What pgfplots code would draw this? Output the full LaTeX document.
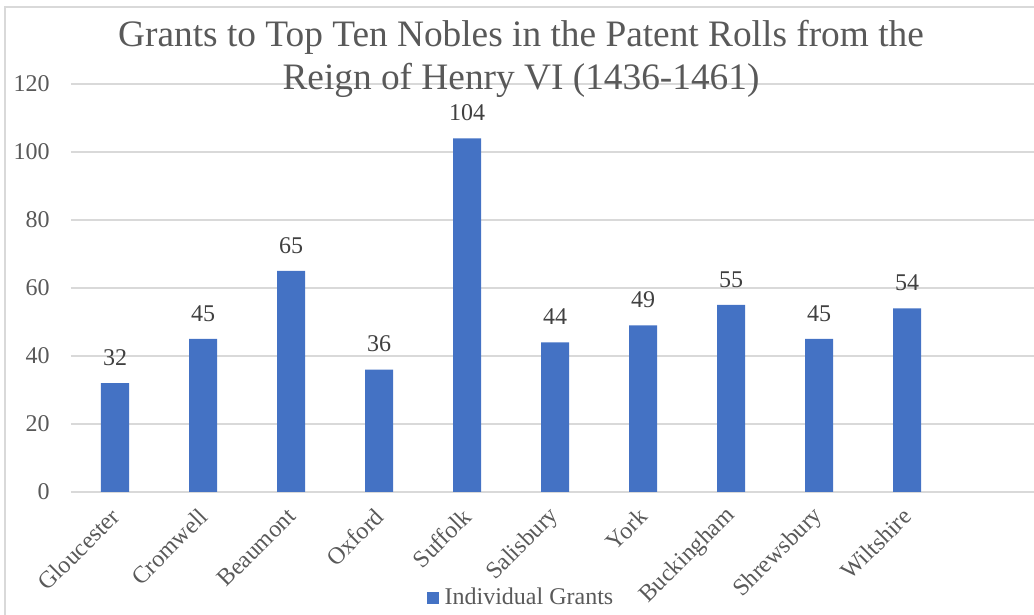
\documentclass[border=0pt]{standalone}
\usepackage{fontspec}
\setmainfont{Liberation Serif}
\usepackage{pgfplots}
\pgfplotsset{compat=1.18}
\definecolor{barblue}{HTML}{4472C4}
\definecolor{gridgray}{HTML}{D9D9D9}
\definecolor{txtgray}{HTML}{595959}
\definecolor{lblgray}{HTML}{404040}
\begin{document}
\begin{tikzpicture}[x=0.375pt,y=0.375pt]
\path[use as bounding box] (0,0) rectangle (1034,614);
\draw[gridgray, line width=0.75pt] (5,-5) -- (5,607) -- (1040,607);
\begin{axis}[
  at={(26.625pt,45.75pt)}, anchor=south west,
  scale only axis, width=361.125pt, height=153pt,
  xmin=-0.5, xmax=10.443, ymin=0, ymax=120,
  ybar, bar width=10.5pt,
  axis line style={draw=none},
  major tick length=0pt,
  ymajorgrids, grid style={gridgray, line width=0.75pt},
  ytick={0,20,...,120},
  xtick={0,...,9},
  xticklabels={Gloucester,Cromwell,Beaumont,Oxford,Suffolk,Salisbury,York,Buckingham,Shrewsbury,Wiltshire},
  /pgf/number format/assume math mode=true,
  tick label style={font=\fontsize{9}{10.8}\selectfont, text=txtgray},
  yticklabel style={anchor=east, xshift=-4.5pt},
  xticklabel style={xshift=2.6pt, yshift=-5.25pt, rotate=45, anchor=east},
  nodes near coords,
  every node near coord/.append style={font=\fontsize{9}{10.8}\selectfont, text=lblgray, anchor=south, yshift=3pt},
  title={Grants to Top Ten Nobles in the Patent Rolls from the\\Reign of Henry VI (1436-1461)},
  title style={at={(axis description cs:0.4673,1.118)}, anchor=north, align=center, inner sep=0pt, font=\fontsize{14}{16.2}\selectfont, text=txtgray},
  legend style={at={(axis description cs:0.4693,-0.261)}, anchor=center, draw=none, fill=none, inner sep=0pt, font=\fontsize{9}{10.8}\selectfont, text=txtgray},
  legend image code/.code={\fill[barblue] (0pt,-2.25pt) rectangle (4.5pt,2.25pt);},
  clip=false,
]
\addplot[fill=barblue, draw=none] coordinates {
(0,32) (1,45) (2,65) (3,36) (4,104) (5,44) (6,49) (7,55) (8,45) (9,54)
};
\legend{Individual Grants}
\end{axis}
\end{tikzpicture}
\end{document}
